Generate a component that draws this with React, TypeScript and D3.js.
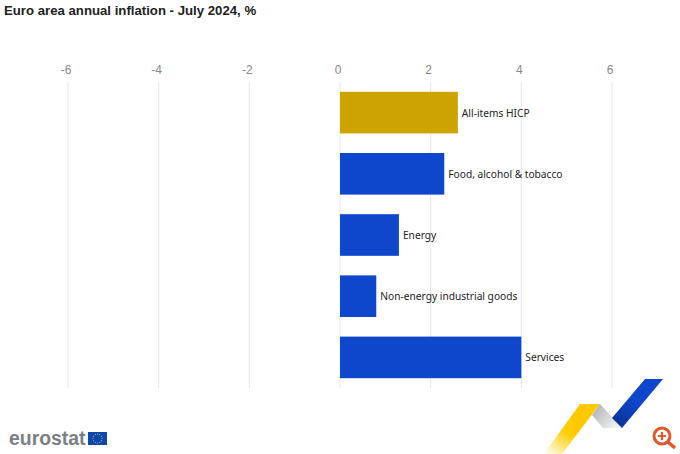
import React from "react";
import * as d3 from "d3";

const categories = ["All-items HICP", "Food, alcohol & tobacco", "Energy", "Non-energy industrial goods", "Services"];
const values = [2.6, 2.3, 1.3, 0.8, 4.0];
const barColors = ["#cca300", "#0e47cb", "#0e47cb", "#0e47cb", "#0e47cb"];
const tickValues = [-6, -4, -2, 0, 2, 4, 6];

const W = 680, H = 454;
const x = d3.scaleLinear().domain([-6, 6]).range([68, 612]);
const y = d3.scaleBand<string>().domain(categories).range([82, 388]).paddingInner(0.32).paddingOuter(0.16);
const sans = "'Liberation Sans', Arial, sans-serif";
const labelFont = "'Noto Sans', sans-serif";

export default function App() {
  const circleStars = d3.range(12).map((i) => {
    const a = (i / 12) * 2 * Math.PI;
    return [97.5 + 4.5 * Math.cos(a), 438.5 + 4.5 * Math.sin(a)];
  });
  return (
    <svg width={W} height={H} viewBox={`0 0 ${W} ${H}`} style={{ position: "absolute", left: 0, top: 0, background: "#fff" }}>
      <defs>
        <linearGradient id="gold" x1="0" y1="1" x2="0.6" y2="0.2">
          <stop offset="0" stopColor="#ffcc00" stopOpacity="0" />
          <stop offset="0.6" stopColor="#ffcc00" />
          <stop offset="1" stopColor="#ffc800" />
        </linearGradient>
        <linearGradient id="grey" x1="0" y1="0" x2="1" y2="0.6">
          <stop offset="0" stopColor="#a9abae" />
          <stop offset="1" stopColor="#f2f2f3" />
        </linearGradient>
        <linearGradient id="blue" x1="0" y1="1" x2="1" y2="0">
          <stop offset="0" stopColor="#0b2f8c" />
          <stop offset="0.5" stopColor="#0e47cb" />
          <stop offset="1" stopColor="#0e47cb" />
        </linearGradient>
      </defs>
      <text x={4} y={15} fontFamily={sans} fontWeight="bold" fontSize={13.2} fill="#222">
        Euro area annual inflation - July 2024, %
      </text>
      {tickValues.map((t) => (
        <g key={t}>
          <line x1={x(t)} x2={x(t)} y1={82} y2={388} stroke="#e6e6e6" strokeWidth={1} />
          <text x={x(t) - 2} y={74} textAnchor="middle" fontFamily={sans} fontSize={12} fill="#888">
            {t}
          </text>
        </g>
      ))}
      {categories.map((c, i) => (
        <g key={c}>
          <rect x={x(0)} y={y(c)} width={x(values[i]) - x(0)} height={y.bandwidth()} fill={barColors[i]} />
          <text x={x(values[i]) + 4} y={y(c)! + y.bandwidth() / 2 + 4} fontFamily={labelFont} fontSize={10.2} fill="#222">
            {c}
          </text>
        </g>
      ))}
      <text x={9} y={445} fontFamily={sans} fontWeight="bold" fontSize={19.4} fill="#7b7f86">eurostat</text>
      <rect x={88} y={432} width={19} height={13} fill="#0e47a8" />
      {circleStars.map(([cx, cy], i) => (
        <circle key={i} cx={cx} cy={cy} r={0.5} fill="#d8dcae" />
      ))}
      <polygon points="544,454 580,404 600,404 562,454" fill="url(#gold)" />
      <polygon points="600,404 622,428 603,428 592,415" fill="url(#grey)" />
      <polygon points="612,418 645,379 663,379 622,428" fill="url(#blue)" />
      <g fill="none" stroke="#e2582a">
        <circle cx={662} cy={436} r={8} strokeWidth={3} />
        <line x1={668} y1={442} x2={675} y2={448} strokeWidth={3.5} />
        <path d="M658 436h8M662 432v8" strokeWidth={2.2} />
      </g>
    </svg>
  );
}
